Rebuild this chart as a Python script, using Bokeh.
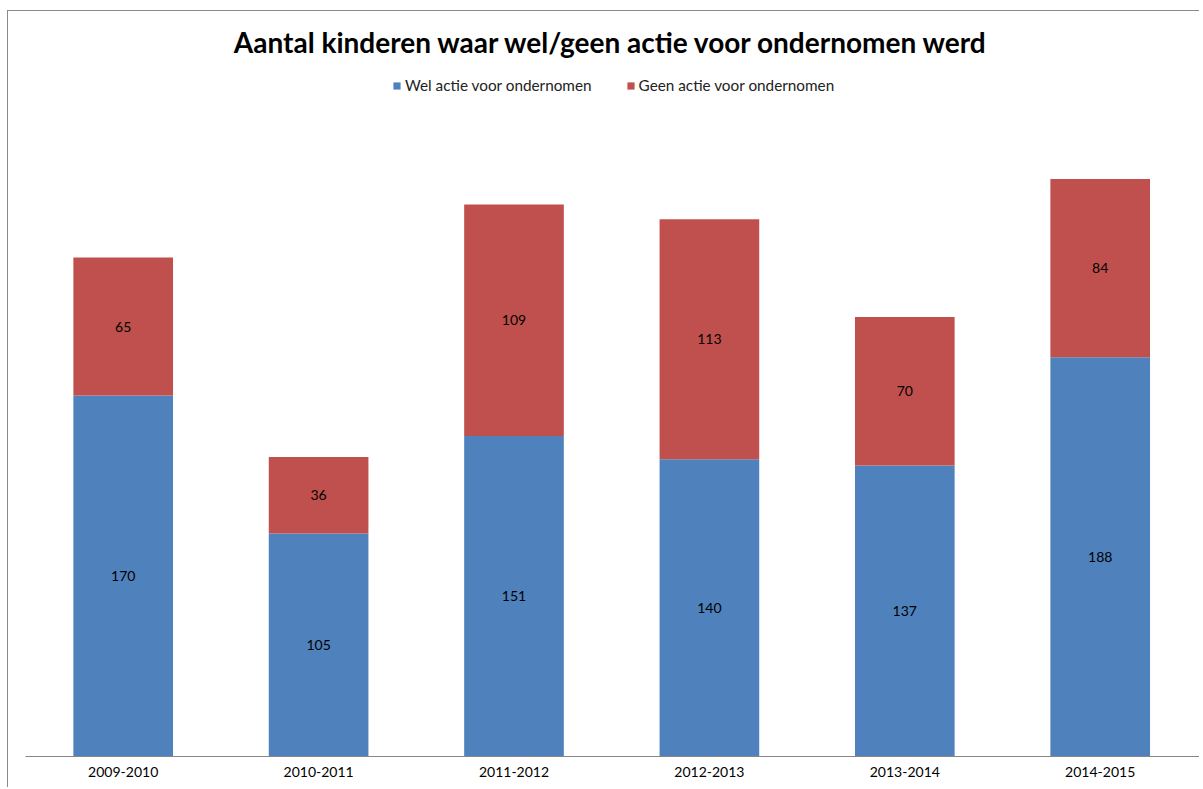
from bokeh.plotting import figure
from bokeh.models import ColumnDataSource, Range1d, Legend, LegendItem, Label, FixedTicker
from bokeh.core.properties import value
from bokeh.embed import file_html
from bokeh.resources import INLINE

# ---- data ----
seasons = ["2009-2010", "2010-2011", "2011-2012", "2012-2013", "2013-2014", "2014-2015"]
wel = [170, 105, 151, 140, 137, 188]
geen = [65, 36, 109, 113, 70, 84]
series_names = ["Wel actie voor ondernomen", "Geen actie voor ondernomen"]
title_text = "Aantal kinderen waar wel/geen actie voor ondernomen werd"
colors = ["#4F81BD", "#C0504D"]

# ---- layout ----
W, H = 1195, 777
FRAME_LEFT = 17
FRAME_BOTTOM = 745          # canvas px of the x axis line
PX_PER_UNIT = 637 / 300     # vertical scale
PX_PER_CAT = 195.4          # horizontal scale

x = list(range(len(seasons)))
total = [a + b for a, b in zip(wel, geen)]
src = ColumnDataSource(dict(
    x=x, wel=wel, geen=geen, total=total,
    wel_mid=[a / 2 for a in wel],
    geen_mid=[a + b / 2 for a, b in zip(wel, geen)],
    wel_lbl=[str(v) for v in wel],
    geen_lbl=[str(v) for v in geen],
))

x_end = -0.5 + (W - FRAME_LEFT) / PX_PER_CAT
y_end = FRAME_BOTTOM / PX_PER_UNIT

p = figure(width=W, height=H, output_backend="svg", toolbar_location=None,
           title=None, x_range=Range1d(-0.5, x_end), y_range=Range1d(0, y_end),
           min_border_left=FRAME_LEFT, min_border_right=0, min_border_top=0,
           min_border_bottom=H - FRAME_BOTTOM)
p.styles = {"border-left": "1px solid #8A8A8A", "border-top": "1px solid #8A8A8A",
            "margin-top": "10px", "margin-left": "7px",
            "clip-path": "inset(0px 3px 0px 0px)"}
p.outline_line_color = None
p.xgrid.visible = False
p.ygrid.visible = False
p.yaxis.visible = False
p.background_fill_color = "white"
p.border_fill_color = "white"

r1 = p.vbar(x="x", width=0.51, bottom=0, top="wel", source=src,
            fill_color=colors[0], line_color=None)
r2 = p.vbar(x="x", width=0.51, bottom="wel", top="total", source=src,
            fill_color=colors[1], line_color=None)

for ycol, tcol in (("wel_mid", "wel_lbl"), ("geen_mid", "geen_lbl")):
    p.text(x="x", y=ycol, text=tcol, source=src, text_align="center",
           text_baseline="middle", text_color="black",
           text_font=value("Lato"), text_font_size="14px")

ax = p.xaxis[0]
ax.ticker = FixedTicker(ticks=x)
ax.major_label_overrides = {i: s for i, s in zip(x, seasons)}
ax.axis_line_color = "#868686"
ax.axis_line_width = 1
ax.major_tick_line_color = None
ax.minor_tick_line_color = None
ax.major_tick_out = 0
ax.major_tick_in = 0
ax.major_label_standoff = 10
ax.major_label_text_font = "Lato"
ax.major_label_text_font_size = "14px"
ax.major_label_text_color = "black"

legend = Legend(items=[LegendItem(label=series_names[0], renderers=[r1]),
                       LegendItem(label=series_names[1], renderers=[r2])],
                orientation="horizontal", location=(367, FRAME_BOTTOM - 75 - 8),
                padding=0, margin=0, border_line_color=None,
                background_fill_alpha=0, glyph_width=9, glyph_height=9,
                label_standoff=4, spacing=34, label_height=16,
                label_text_font="Lato", label_text_font_size="15.3px",
                label_text_color="#222222")
p.add_layout(legend, "center")

title = Label(x=586, y=FRAME_BOTTOM - 41 + 11, x_units="screen", y_units="screen",
              text=title_text, text_align="center", text_baseline="alphabetic",
              text_font="Lato", text_font_style="bold", text_font_size="28px",
              text_color="black")
p.add_layout(title)

open("out.html", "w").write(file_html(p, INLINE))
